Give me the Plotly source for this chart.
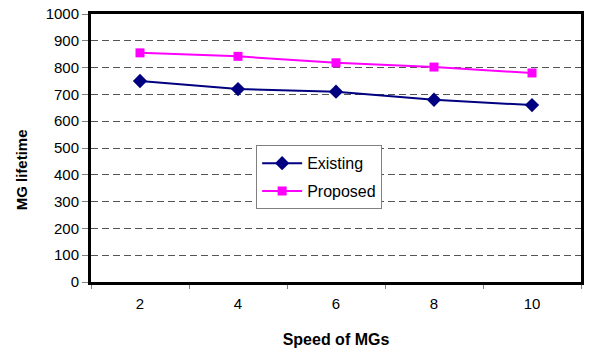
import plotly.graph_objects as go

speeds = ["2", "4", "6", "8", "10"]
existing = [750, 720, 710, 680, 660]
proposed = [855, 842, 818, 802, 780]
y_ticks = [0, 100, 200, 300, 400, 500, 600, 700, 800, 900, 1000]

FAM = "Liberation Sans, Arial, sans-serif"

fig = go.Figure()
fig.add_trace(go.Scatter(
    x=speeds, y=existing, name="Existing", mode="lines+markers",
    legendgroup="a",
    line=dict(color="#000080", width=2),
    marker=dict(symbol="diamond", size=11, color="#000080"),
))
fig.add_trace(go.Scatter(
    x=speeds, y=proposed, name="Proposed", mode="lines+markers",
    legendgroup="b",
    line=dict(color="#FF00FF", width=2),
    marker=dict(symbol="square", size=9, color="#FF00FF"),
))

font = dict(family=FAM, size=15, color="black")

fig.update_layout(
    width=589, height=354,
    margin=dict(l=91, r=5, t=10, b=72),
    paper_bgcolor="white", plot_bgcolor="white",
    font=font,
    showlegend=True,
    legend=dict(
        x=0.337, y=0.51, xanchor="left", yanchor="top",
        bgcolor="white", bordercolor="#808080", borderwidth=1,
        font=dict(family=FAM, size=16, color="black"),
        tracegroupgap=4, itemwidth=40,
    ),
    xaxis=dict(
        type="category", range=[-0.5, 4.5],
        tickson="boundaries", ticks="outside", ticklen=4, tickcolor="#808080",
        ticklabelstandoff=6,
        showgrid=False, showline=True, linecolor="black", linewidth=3, mirror=True,
        title=dict(text="<b>Speed of MGs</b>", standoff=23,
                   font=dict(family=FAM, size=16)),
        tickfont=dict(family=FAM, size=15, color="black"),
    ),
    yaxis=dict(
        range=[0, 1000], tickvals=y_ticks,
        ticks="outside", ticklen=6, tickcolor="#808080",
        showgrid=True, gridcolor="#555555", griddash="7px,4px", gridwidth=1,
        showline=True, linecolor="black", linewidth=3, mirror=True,
        zeroline=False,
        tickfont=dict(family=FAM, size=15, color="black"),
    ),
    annotations=[dict(
        text="<b>MG lifetime</b>", textangle=-90,
        xref="paper", yref="paper", x=-0.141, y=0.42,
        xanchor="center", yanchor="middle", showarrow=False,
        font=dict(family=FAM, size=15, color="black"),
    )],
)

fig.write_html("out.html")
